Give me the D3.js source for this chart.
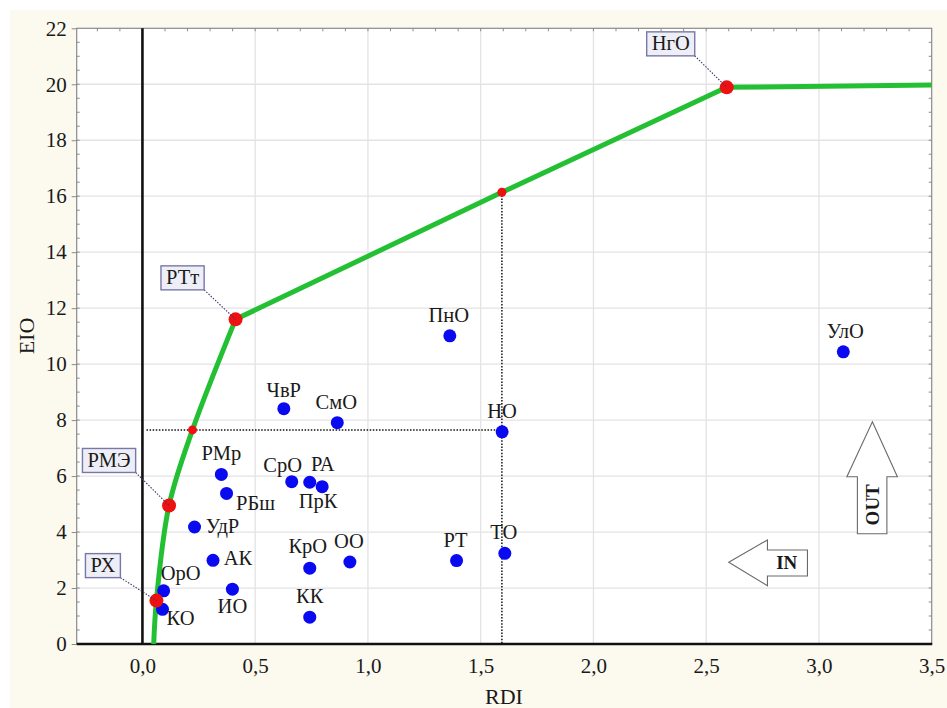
<!DOCTYPE html>
<html>
<head>
<meta charset="utf-8">
<script src="https://cdn.jsdelivr.net/npm/d3@7"></script>
<style>
  html, body { margin: 0; padding: 0; background: #ffffff; }
  svg { display: block; }
</style>
</head>
<body>
<svg id="chart" width="947" height="708"></svg>
<script>
// ---------- data ----------
const pointNames = ["ЧвР","СмО","РМр","СрО","РА","ПрК","РБш","УдР","АК","КрО","ОО","ОрО","ИО","КО","КК","ПнО","НО","РТ","ТО","УлО"];
const pointRDI   = [0.627,0.864,0.350,0.662,0.742,0.797,0.373,0.231,0.313,0.742,0.920,0.094,0.399,0.089,0.742,1.363,1.595,1.393,1.607,3.108];
const pointEIO   = [8.41, 7.91, 6.06, 5.80, 5.78, 5.62, 5.38, 4.18, 2.99, 2.71, 2.93, 1.90, 1.96, 1.24, 0.96, 11.01,7.58, 2.98, 3.24, 10.44];

const frontierRDI = [0.050, 0.062, 0.118, 0.222, 0.413, 1.594, 2.591, 3.5];
const frontierEIO = [0.00,  1.55,  4.95,  7.65,  11.60, 16.14, 19.89, 19.97];
const frontierKeyNames = ["", "РХ", "РМЭ", "", "РТт", "", "НгО", ""];
const frontierMarker   = ["none", "big", "big", "small", "big", "small", "big", "none"];

const xTicks = [0, 0.5, 1.0, 1.5, 2.0, 2.5, 3.0, 3.5];
const yTicks = [0, 2, 4, 6, 8, 10, 12, 14, 16, 18, 20, 22];
const xDomain = [-0.2915, 3.5];
const yDomain = [0, 22];

// dotted projection lines (data space)
const hRefEIO = 7.65, hRefFrom = 0.018, hRefTo = 1.595;
const vRefRDI = 1.594, vRefTop = 16.14;

// ---------- layout ----------
const FONT = "'Liberation Serif', 'Times New Roman', serif";
const svg = d3.select("#chart");
const W = 947, H = 708;
const plot = { left: 76.7, right: 931.7, top: 28.3, bottom: 644 };

const x = d3.scaleLinear().domain(xDomain).range([plot.left, plot.right]);
const y = d3.scaleLinear().domain(yDomain).range([plot.bottom, plot.top]);

// label offsets (pixels) for the blue points: [dx, dy]
const labelOffsets = {
  "ЧвР":[0,-12], "СмО":[-1,-14], "РМр":[0,-14], "СрО":[-9,-10], "РА":[13,-11.5],
  "ПрК":[-4,21], "РБш":[29,17], "УдР":[28,6], "АК":[25,5], "КрО":[-2,-15],
  "ОО":[-1,-14], "ОрО":[17,-11], "ИО":[0,24], "КО":[18,16], "КК":[0,-14],
  "ПнО":[-1,-13.5], "НО":[0,-13.5], "РТ":[-1,-14], "ТО":[-1,-14], "УлО":[2,-13.5]
};
// boxed labels: box centre offset from the frontier point
const boxOffsets = { "РХ":[-53.5,-35], "РМЭ":[-60,-45], "РТт":[-53,-41.5], "НгО":[-56,-43.5] };

function txt(sel, size) {
  return sel.style("font-family", FONT).style("font-size", size + "px").attr("fill", "#1a1a1a");
}

// background
svg.append("rect").attr("x",0).attr("y",0).attr("width",W).attr("height",H).attr("fill","#ffffff");
svg.append("rect").attr("x",10).attr("y",10).attr("width",W-10).attr("height",H-10).attr("fill","#fcf9ee");
svg.append("rect").attr("x",plot.left).attr("y",plot.top)
  .attr("width",plot.right-plot.left).attr("height",plot.bottom-plot.top).attr("fill","#ffffff");

// grid
const grid = svg.append("g");
grid.selectAll("line.gx").data(xTicks.filter(d => d > 0 && d < 3.5)).join("line")
  .attr("x1",d=>x(d)).attr("x2",d=>x(d)).attr("y1",plot.top).attr("y2",plot.bottom)
  .attr("stroke","#e3e3e6").attr("stroke-width",1.3);
grid.selectAll("line.gy").data(yTicks.filter(d => d > 0 && d < 22)).join("line")
  .attr("x1",plot.left).attr("x2",plot.right).attr("y1",d=>y(d)).attr("y2",d=>y(d))
  .attr("stroke","#e3e3e6").attr("stroke-width",1.3);

// frame
svg.append("rect").attr("x",plot.left).attr("y",plot.top)
  .attr("width",plot.right-plot.left).attr("height",plot.bottom-plot.top)
  .attr("fill","none").attr("stroke","#8a8a8a").attr("stroke-width",1.2);

// minor ticks on frame
const minorX = d3.range(-2, 35).map(i => i/10);
svg.append("g").selectAll("line").data(minorX).join("line")
  .attr("x1",d=>x(d)).attr("x2",d=>x(d)).attr("y1",plot.top).attr("y2",plot.top+3)
  .attr("stroke","#8a8a8a").attr("stroke-width",1);
const minorY = d3.range(1, 44).map(i => i/2);
svg.append("g").selectAll("line").data(minorY).join("line")
  .attr("x1",plot.left).attr("x2",plot.left+3).attr("y1",d=>y(d)).attr("y2",d=>y(d))
  .attr("stroke","#8a8a8a").attr("stroke-width",1);
svg.append("g").selectAll("line").data(minorY).join("line")
  .attr("x1",plot.right-3).attr("x2",plot.right).attr("y1",d=>y(d)).attr("y2",d=>y(d))
  .attr("stroke","#8a8a8a").attr("stroke-width",1);

// axes via d3
const yAxis = d3.axisLeft(y).tickValues(yTicks).tickSize(5).tickPadding(5).tickFormat(d3.format("d"));
const gy = svg.append("g").attr("transform",`translate(${plot.left},0)`).call(yAxis);
gy.select(".domain").remove();
gy.selectAll(".tick line").attr("stroke","#8a8a8a");
txt(gy.selectAll(".tick text"), 21);

const fmtX = d => d3.format(".1f")(d).replace(".", ",");
const xAxis = d3.axisBottom(x).tickValues(xTicks).tickSize(0).tickPadding(14).tickFormat(fmtX);
const gx = svg.append("g").attr("transform",`translate(0,${plot.bottom})`).call(xAxis);
gx.select(".domain").remove();
txt(gx.selectAll(".tick text"), 21);

// black zero line and bottom axis
svg.append("line").attr("x1",x(0)).attr("x2",x(0)).attr("y1",plot.top).attr("y2",plot.bottom)
  .attr("stroke","#111").attr("stroke-width",2.6);
svg.append("line").attr("x1",plot.left).attr("x2",plot.right+0.5).attr("y1",plot.bottom).attr("y2",plot.bottom)
  .attr("stroke","#111").attr("stroke-width",2.6);

// axis titles
txt(svg.append("text").attr("transform",`translate(34,336) rotate(-90)`).attr("text-anchor","middle"), 22).text("EIO");
txt(svg.append("text").attr("x",504).attr("y",704).attr("text-anchor","middle"), 22).text("RDI");

// dotted reference lines
svg.append("line").attr("x1",x(hRefFrom)).attr("x2",x(hRefTo)).attr("y1",y(hRefEIO)).attr("y2",y(hRefEIO))
  .attr("stroke","#111").attr("stroke-width",1.5).attr("stroke-dasharray","1.5,1.6");
svg.append("line").attr("x1",x(vRefRDI)).attr("x2",x(vRefRDI)).attr("y1",y(vRefTop)).attr("y2",y(0))
  .attr("stroke","#111").attr("stroke-width",1.5).attr("stroke-dasharray","1.5,1.6");

// frontier
const fr = frontierRDI.map((r,i) => ({ r, e: frontierEIO[i], name: frontierKeyNames[i], m: frontierMarker[i] }));
const curvePart = fr.slice(0,5);
const linePart = fr.slice(4);
svg.append("path").datum(curvePart)
  .attr("d", d3.line().x(d=>x(d.r)).y(d=>y(d.e)).curve(d3.curveCatmullRom.alpha(0.5)))
  .attr("fill","none").attr("stroke","#22c032").attr("stroke-width",5).attr("stroke-linejoin","round");
svg.append("path").datum(linePart)
  .attr("d", d3.line().x(d=>x(d.r)).y(d=>y(d.e)))
  .attr("fill","none").attr("stroke","#22c032").attr("stroke-width",5).attr("stroke-linejoin","round");

// blue points
const pts = pointNames.map((n,i) => ({ n, r: pointRDI[i], e: pointEIO[i] }));
svg.append("g").selectAll("circle").data(pts).join("circle")
  .attr("cx",d=>x(d.r)).attr("cy",d=>y(d.e)).attr("r",6.5).attr("fill","#0a0af0");
txt(svg.append("g").selectAll("text").data(pts).join("text")
  .attr("x",d=>x(d.r)+labelOffsets[d.n][0]).attr("y",d=>y(d.e)+labelOffsets[d.n][1])
  .attr("text-anchor","middle"), 20.5).text(d=>d.n);

// red frontier markers
svg.append("g").selectAll("circle").data(fr.filter(d=>d.m!=="none")).join("circle")
  .attr("cx",d=>x(d.r)).attr("cy",d=>y(d.e)).attr("r",d=>d.m==="big"?7:4.5).attr("fill","#ee1111");

// boxed labels with dotted leaders
const boxed = fr.filter(d => d.name);
const bg = svg.append("g");
boxed.forEach(d => {
  const px = x(d.r), py = y(d.e);
  const cx = px + boxOffsets[d.name][0], cy = py + boxOffsets[d.name][1];
  const t = txt(bg.append("text").attr("x",cx).attr("y",cy+6.5).attr("text-anchor","middle"), 20.5).text(d.name);
  const bb = t.node().getBBox();
  const bw = bb.width + 10, bh = 24;
  const bx = cx - bw/2, by = cy - bh/2;
  bg.insert("line", "text").attr("x1",bx+bw).attr("y1",by+bh).attr("x2",px).attr("y2",py)
    .attr("stroke","#3a3a66").attr("stroke-width",1.1).attr("stroke-dasharray","1.5,1.5");
  bg.insert("rect", "text").attr("x",bx).attr("y",by).attr("width",bw).attr("height",bh)
    .attr("fill","#eeeef7").attr("stroke","#7878a8").attr("stroke-width",1.4);
});

// IN / OUT arrows (data-space anchors)
const outTip = [3.237, 7.94], inTip = [2.6, 2.92];
{
  const tx = x(outTip[0]), ty = y(outTip[1]);
  const pathOut = [[tx,ty],[tx+25,ty+55],[tx+14.5,ty+55],[tx+14.5,ty+112],[tx-15,ty+112],[tx-15,ty+55],[tx-25.5,ty+55]];
  svg.append("path").attr("d", d3.line()(pathOut)+"Z").attr("fill","#ffffff").attr("stroke","#6a6a6a").attr("stroke-width",1.1);
  txt(svg.append("text").attr("transform",`translate(${tx+6.5},${ty+83}) rotate(-90)`).attr("text-anchor","middle"), 19)
    .style("font-weight","bold").text("OUT");
}
{
  const tx = x(inTip[0]), ty = y(inTip[1]);
  const pathIn = [[tx,ty],[tx+38.7,ty-22.3],[tx+38.7,ty-12.3],[tx+78.7,ty-12.3],[tx+78.7,ty+13.7],[tx+38.7,ty+13.7],[tx+38.7,ty+23.4]];
  svg.append("path").attr("d", d3.line()(pathIn)+"Z").attr("fill","#ffffff").attr("stroke","#6a6a6a").attr("stroke-width",1.1);
  txt(svg.append("text").attr("x",tx+58).attr("y",ty+7).attr("text-anchor","middle"), 19)
    .style("font-weight","bold").text("IN");
}
</script>
</body>
</html>
